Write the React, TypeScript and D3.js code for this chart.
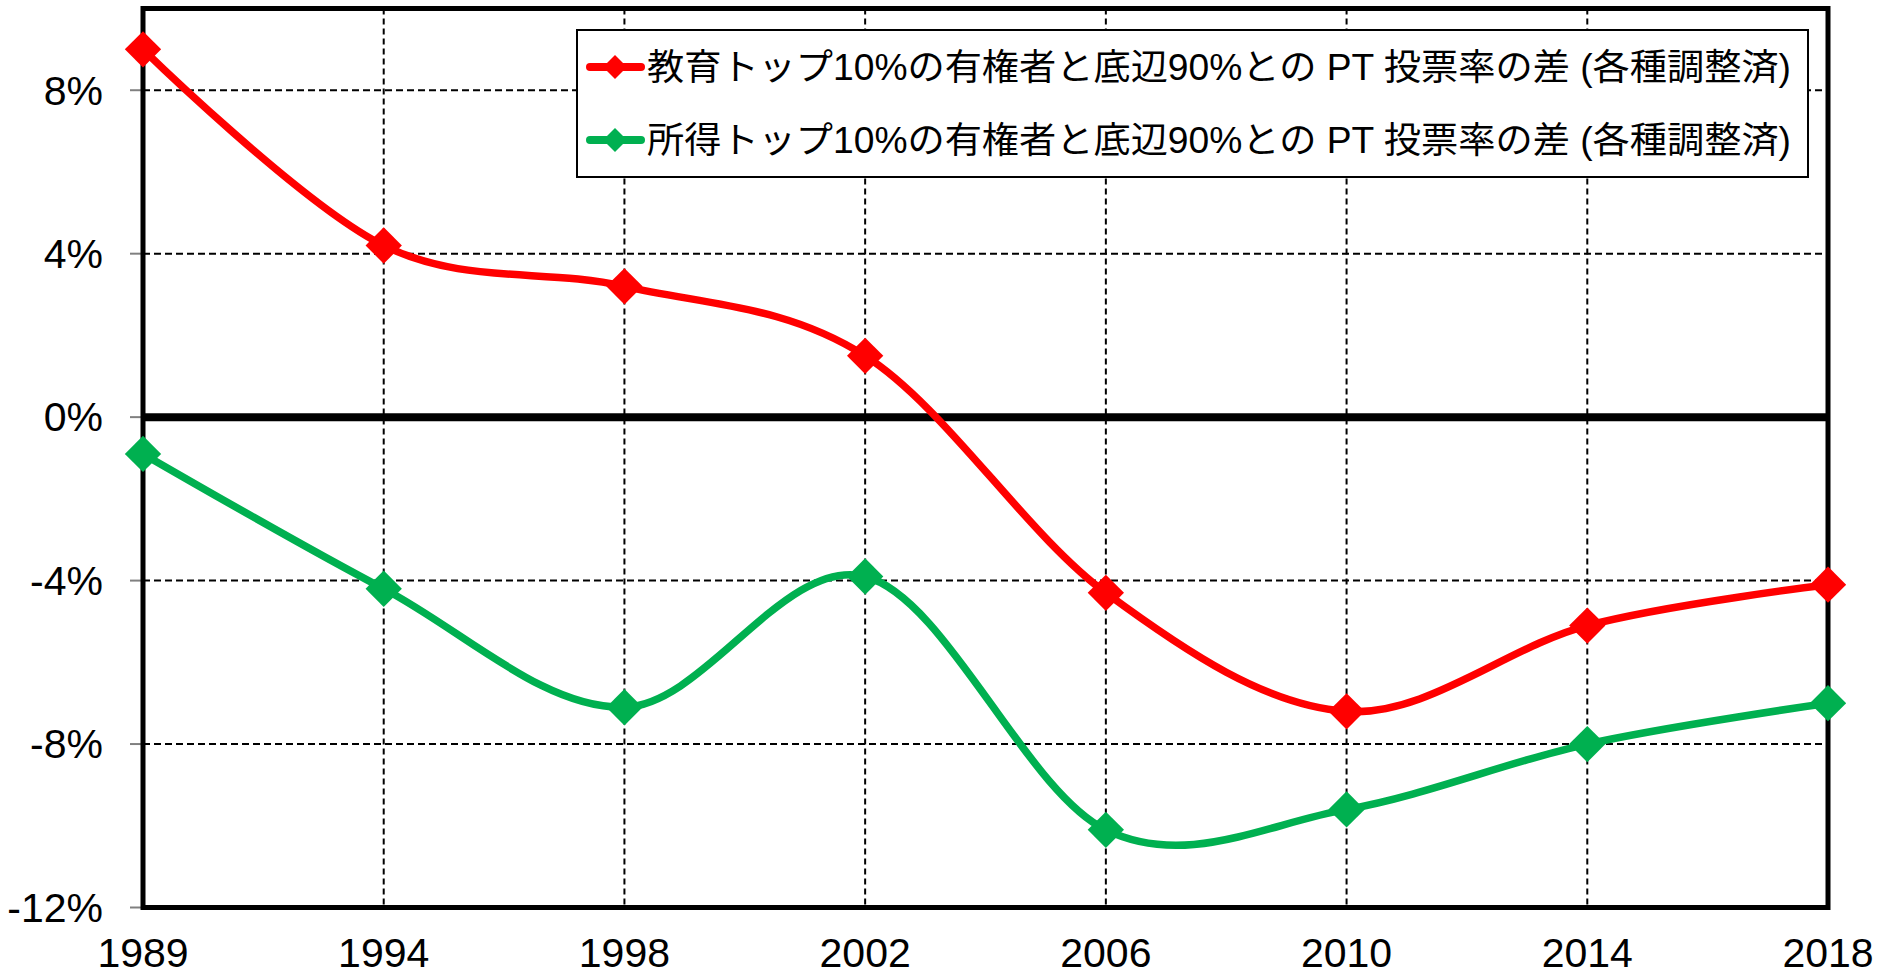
import { useEffect, useRef } from 'react'
import * as d3 from 'd3'

// values (percentage points)
const years = ['1989', '1994', '1998', '2002', '2006', '2010', '2014', '2018']
const eduGap = [9.0, 4.2, 3.2, 1.5, -4.3, -7.2, -5.1, -4.1]
const incomeGap = [-0.9, -4.2, -7.1, -3.9, -10.1, -9.6, -8.0, -7.0]
const yTicks = [-12, -8, -4, 0, 4, 8]
const seriesNames = [
  '教育トップ10%の有権者と底辺90%との PT 投票率の差 (各種調整済)',
  '所得トップ10%の有権者と底辺90%との PT 投票率の差 (各種調整済)',
]
const seriesColors = ['#FF0000', '#00B050']

const width = 1889
const height = 978

const App = () => {
  const svgRef = useRef<SVGSVGElement>(null)

  useEffect(() => {
    const left = 143
    const right = 1828
    const top = 8.5
    const bottom = 907.5

    const x = d3.scalePoint<string>().domain(years).range([left, right])
    const y = d3.scaleLinear().domain([-12, 10]).range([bottom, top])

    const svg = d3.select(svgRef.current)
    svg.selectAll('*').remove()

    const font = '"Liberation Sans", Arial, sans-serif'

    // horizontal dashed grid
    svg
      .append('g')
      .selectAll('line')
      .data(yTicks.filter((t) => t !== 0 && t !== -12))
      .join('line')
      .attr('x1', left)
      .attr('x2', right)
      .attr('y1', (d) => y(d))
      .attr('y2', (d) => y(d))
      .attr('stroke', '#000')
      .attr('stroke-width', 2)
      .attr('stroke-dasharray', '7,4')

    // vertical dashed grid
    svg
      .append('g')
      .selectAll('line')
      .data(years.slice(1, -1))
      .join('line')
      .attr('x1', (d) => x(d)!)
      .attr('x2', (d) => x(d)!)
      .attr('y1', top)
      .attr('y2', bottom)
      .attr('stroke', '#000')
      .attr('stroke-width', 2)
      .attr('stroke-dasharray', '6,4')

    // y tick marks + labels
    const yAxis = svg.append('g')
    yAxis
      .selectAll('line')
      .data(yTicks)
      .join('line')
      .attr('x1', left - 13)
      .attr('x2', left)
      .attr('y1', (d) => y(d))
      .attr('y2', (d) => y(d))
      .attr('stroke', '#808080')
      .attr('stroke-width', 2)
    yAxis
      .selectAll('text')
      .data(yTicks)
      .join('text')
      .attr('x', 103)
      .attr('y', (d) => y(d))
      .attr('dy', '0.35em')
      .attr('text-anchor', 'end')
      .style('font-family', font)
      .style('font-size', '41px')
      .attr('fill', '#000')
      .text((d) => `${d}%`)

    // x labels
    svg
      .append('g')
      .selectAll('text')
      .data(years)
      .join('text')
      .attr('x', (d) => x(d)!)
      .attr('y', 967)
      .attr('text-anchor', 'middle')
      .style('font-family', font)
      .style('font-size', '41px')
      .attr('fill', '#000')
      .text((d) => d)

    // zero line
    svg
      .append('line')
      .attr('x1', left)
      .attr('x2', right)
      .attr('y1', y(0))
      .attr('y2', y(0))
      .attr('stroke', '#000')
      .attr('stroke-width', 8)

    // frame
    svg
      .append('rect')
      .attr('x', left)
      .attr('y', top)
      .attr('width', right - left)
      .attr('height', bottom - top)
      .attr('fill', 'none')
      .attr('stroke', '#000')
      .attr('stroke-width', 5)

    // legend box (sits above the grid)
    const legend = svg.append('g')
    legend
      .append('rect')
      .attr('x', 577)
      .attr('y', 30)
      .attr('width', 1231)
      .attr('height', 147)
      .attr('fill', '#fff')
      .attr('stroke', '#000')
      .attr('stroke-width', 2)

    // series
    const line = d3
      .line<number>()
      .x((d, i) => x(years[i])!)
      .y((d) => y(d))
      .curve(d3.curveCardinal.tension(0))
    const marker = d3.symbol(d3.symbolSquare, 660)

    const allSeries = [eduGap, incomeGap]
    allSeries.forEach((vals, k) => {
      const g = svg.append('g')
      g.append('path')
        .attr('d', line(vals))
        .attr('fill', 'none')
        .attr('stroke', seriesColors[k])
        .attr('stroke-width', 7.5)
        .attr('stroke-linejoin', 'round')
      g.selectAll('path.pt')
        .data(vals)
        .join('path')
        .attr('class', 'pt')
        .attr('d', marker)
        .attr('transform', (d, i) => `translate(${x(years[i])},${y(d)}) rotate(45)`)
        .attr('fill', seriesColors[k])
    })

    // legend entries
    const legendMarker = d3.symbol(d3.symbolSquare, 290)
    seriesNames.forEach((name, k) => {
      const cy = 67 + k * 73
      legend
        .append('line')
        .attr('x1', 590)
        .attr('x2', 641)
        .attr('y1', cy)
        .attr('y2', cy)
        .attr('stroke', seriesColors[k])
        .attr('stroke-width', 8)
        .attr('stroke-linecap', 'round')
      legend
        .append('path')
        .attr('d', legendMarker)
        .attr('transform', `translate(615,${cy}) rotate(45)`)
        .attr('fill', seriesColors[k])
      legend
        .append('text')
        .attr('x', 647)
        .attr('y', cy)
        .attr('dy', '0.36em')
        .attr('textLength', 1144)
        .attr('lengthAdjust', 'spacingAndGlyphs')
        .style('font-family', '"Liberation Sans", Arial, "Noto Sans CJK JP", sans-serif')
        .style('font-size', '36px')
        .attr('fill', '#000')
        .text(name)
    })
  }, [])

  return (
    <svg
      ref={svgRef}
      width={width}
      height={height}
      style={{ position: 'absolute', left: 0, top: 0, background: '#fff' }}
    />
  )
}

export default App
